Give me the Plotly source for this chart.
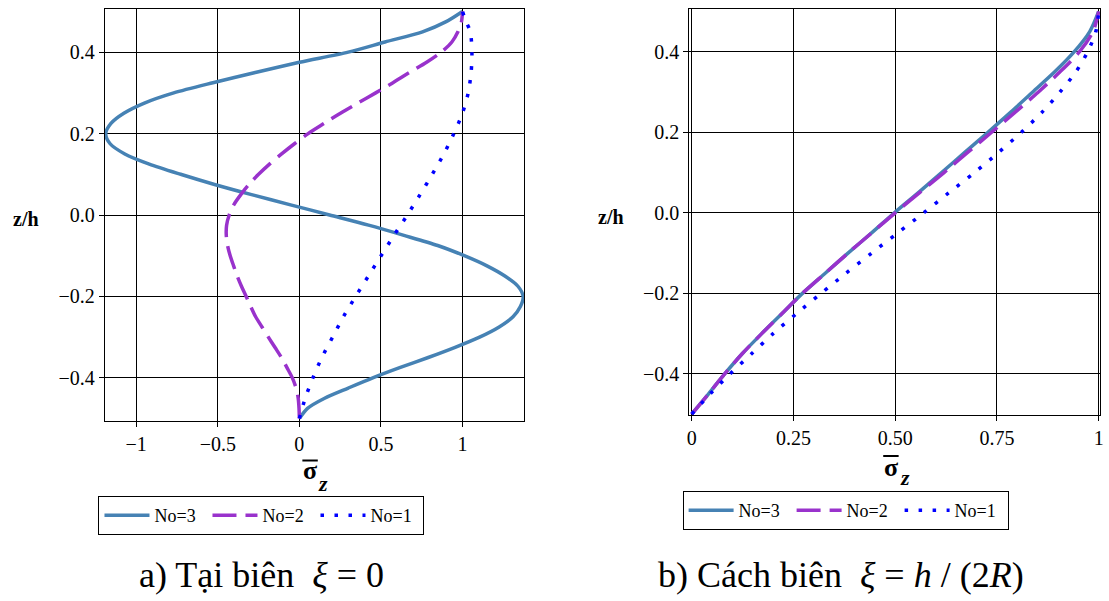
import plotly.graph_objects as go

W, H = 1109, 601

# ---------------- data: panel a) at boundary xi = 0 ----------------
z_a3 = [-0.5, -0.475, -0.45, -0.425, -0.4, -0.375, -0.35, -0.325, -0.3, -0.275, -0.25, -0.225,
        -0.2, -0.175, -0.15, -0.125, -0.1, -0.075, -0.05, -0.025, 0.0, 0.025, 0.05, 0.075,
        0.1, 0.125, 0.15, 0.175, 0.2, 0.225, 0.25, 0.275, 0.3, 0.325, 0.35, 0.375, 0.4,
        0.425, 0.45, 0.475, 0.5]
s_a3 = [0.0, 0.05, 0.155, 0.30, 0.45, 0.615, 0.79, 0.955, 1.105, 1.225, 1.31, 1.355,
        1.372, 1.34, 1.26, 1.15, 1.011, 0.848, 0.641, 0.424, 0.185, -0.054, -0.293, -0.52,
        -0.728, -0.92, -1.07, -1.16, -1.187, -1.155, -1.076, -0.95, -0.77, -0.53, -0.27, 0.0, 0.3,
        0.525, 0.755, 0.9, 1.0]

z_a2 = z_a3
s_a2 = [0.0, -0.002, -0.007, -0.02, -0.043, -0.076, -0.11, -0.15, -0.19, -0.229, -0.268, -0.298,
        -0.326, -0.355, -0.381, -0.403, -0.424, -0.44, -0.448, -0.446, -0.43, -0.402, -0.359, -0.309,
        -0.25, -0.183, -0.109, -0.03, 0.054, 0.152, 0.252, 0.359, 0.468, 0.574, 0.675, 0.78, 0.87,
        0.935, 0.972, 0.994, 1.0]

z_a1 = [-0.5, -0.45, -0.4, -0.35, -0.3, -0.25, -0.2, -0.15, -0.1, -0.05, 0.0, 0.05, 0.1,
        0.15, 0.2, 0.25, 0.3, 0.35, 0.4, 0.45, 0.475, 0.5]
s_a1 = [0.0, 0.036, 0.083, 0.138, 0.204, 0.27, 0.345, 0.423, 0.501, 0.58, 0.662, 0.74, 0.815,
        0.886, 0.947, 1.0, 1.035, 1.053, 1.058, 1.048, 1.022, 1.0]

# ---------------- data: panel b) at xi = h/(2R) ----------------
z_b = [-0.5, -0.45, -0.4, -0.35, -0.3, -0.25, -0.2, -0.15, -0.1, -0.05, 0.0, 0.05, 0.1,
       0.15, 0.2, 0.25, 0.3, 0.35, 0.4, 0.45, 0.5]
s_b3 = [0.0, 0.041, 0.081, 0.124, 0.172, 0.222, 0.272, 0.328, 0.384, 0.442, 0.498, 0.557, 0.614,
        0.671, 0.728, 0.784, 0.838, 0.892, 0.94, 0.978, 1.0]
s_b2 = [0.0, 0.041, 0.081, 0.124, 0.172, 0.222, 0.272, 0.328, 0.384, 0.442, 0.5, 0.56, 0.62,
        0.678, 0.737, 0.795, 0.852, 0.905, 0.953, 0.986, 1.0]
s_b1 = [0.0, 0.045, 0.094, 0.147, 0.2, 0.258, 0.318, 0.379, 0.442, 0.506, 0.57, 0.632, 0.695,
        0.754, 0.81, 0.861, 0.905, 0.944, 0.973, 0.993, 1.0]

names = ["No=3", "No=2", "No=1"]
colors = ["#4682B4", "#9932CC", "#0000FF"]
dashes = ["solid", "24px,9px", "3.5px,10.5px"]
widths = [3.5, 3.5, 3.5]

yticks = [-0.4, -0.2, 0.0, 0.2, 0.4]
ytext = ["\u22120.4", "\u22120.2", "0.0", "0.2", "0.4"]
xticks_a = [-1, -0.5, 0, 0.5, 1]
xtext_a = ["\u22121", "\u22120.5", "0", "0.5", "1"]
xticks_b = [0, 0.25, 0.5, 0.75, 1]
xtext_b = ["0", "0.25", "0.50", "0.75", "1"]

serif = "'Liberation Serif', 'Times New Roman', Times, serif"

fig = go.Figure()
series_a = [(s_a3, z_a3), (s_a2, z_a2), (s_a1, z_a1)]
series_b = [(s_b3, z_b), (s_b2, z_b), (s_b1, z_b)]
for i in range(3):
    fig.add_trace(go.Scatter(x=series_a[i][0], y=series_a[i][1], mode="lines", name=names[i],
                             line=dict(color=colors[i], width=widths[i], dash=dashes[i], shape="spline", smoothing=0.8),
                             xaxis="x", yaxis="y", legend="legend"))
for i in range(3):
    fig.add_trace(go.Scatter(x=series_b[i][0], y=series_b[i][1], mode="lines", name=names[i],
                             line=dict(color=colors[i], width=widths[i], dash=dashes[i], shape="spline", smoothing=0.8),
                             xaxis="x2", yaxis="y2", legend="legend2"))

def px(x):
    return x / W

def py(y):
    return 1 - y / H

tickfont = dict(family=serif, size=20, color="black")
axis_common = dict(showline=True, mirror=True, linecolor="black", linewidth=1,
                   showgrid=True, gridcolor="black", gridwidth=1, zeroline=False,
                   ticks="outside", ticklen=5, tickcolor="black", tickwidth=1,
                   tickfont=tickfont)

legend_common = dict(orientation="h", xanchor="left", yanchor="top",
                     bordercolor="black", borderwidth=1, bgcolor="white", itemwidth=45,
                     entrywidth=48, entrywidthmode="pixels",
                     font=dict(family=serif, size=18, color="black"), tracegroupgap=0)

fig.update_layout(
    width=W, height=H, margin=dict(l=0, r=0, t=0, b=0),
    paper_bgcolor="white", plot_bgcolor="white",
    font=dict(family=serif, color="black"),
    xaxis=dict(domain=[px(102.3), px(524.3)], range=[-1.193, 1.38], tickvals=xticks_a, ticktext=xtext_a,
               anchor="y", **axis_common),
    yaxis=dict(domain=[py(421), py(9)], range=[-0.506, 0.506], tickvals=yticks, ticktext=ytext,
               anchor="x", **axis_common),
    xaxis2=dict(domain=[px(690), px(1103.3)], range=[-0.006, 1.004], tickvals=xticks_b, ticktext=xtext_b,
                anchor="y2", **axis_common),
    yaxis2=dict(domain=[py(415), py(9)], range=[-0.502, 0.506], tickvals=yticks, ticktext=ytext,
                anchor="x2", **axis_common),
    legend=dict(x=px(96), y=py(496), **legend_common),
    legend2=dict(x=px(683.3), y=py(491), **legend_common),
    showlegend=True,
)

ann = []

def add_text(text, x, y, size, xanchor="center"):
    ann.append(dict(text=text, x=px(x), y=py(y), xref="paper", yref="paper", showarrow=False,
                    xanchor=xanchor, yanchor="middle",
                    font=dict(family=serif, size=size, color="black")))

# y-axis titles
add_text("<b>z/h</b>", 22.7, 219, 20)
add_text("<b>z/h</b>", 611.6, 217, 20)
# x-axis titles (sigma bar, subscript z)
for (sx, sy, zx, zy) in [(308.7, 470.5, 322.0, 483.5), (892.8, 467.0, 906.6, 477.5)]:
    add_text("<b>σ</b>", sx, sy, 26)
    add_text("<b><i>z</i></b>", zx, zy, 22)
# captions
add_text("a) Tại biên \u00a0<i>ξ</i> = 0", 260, 575, 36)
add_text("b) Cách biên \u00a0<i>ξ</i> = <i>h</i> / (2<i>R</i>)", 843, 575, 36)
fig.update_layout(annotations=ann)

# overline bars above sigma
fig.update_layout(shapes=[
    dict(type="line", xref="paper", yref="paper", x0=px(301), x1=px(316.5), y0=py(460.5), y1=py(460.5),
         line=dict(color="black", width=2)),
    dict(type="line", xref="paper", yref="paper", x0=px(885), x1=px(900.5), y0=py(456), y1=py(456),
         line=dict(color="black", width=2)),
])

fig.write_html("out.html", config={"displayModeBar": False},
               post_script="document.body.style.margin='0';")
